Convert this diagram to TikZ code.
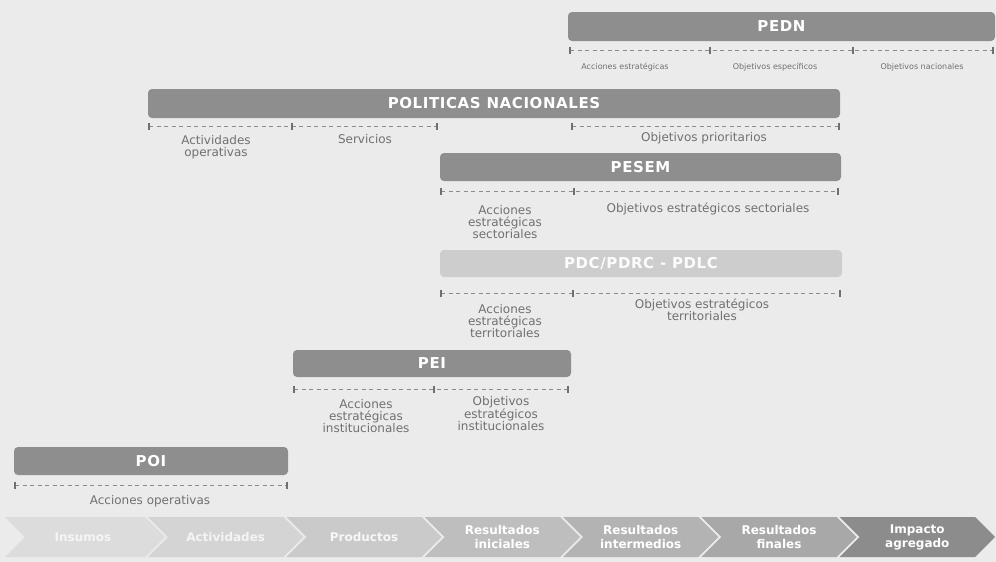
\documentclass[tikz,border=0pt]{standalone}
\usepackage{fontspec}
\setmainfont{DejaVu Sans}
\definecolor{bg}{HTML}{EBEBEB}
\definecolor{barc}{HTML}{8E8E8E}
\definecolor{barlight}{HTML}{CDCDCD}
\definecolor{lbl}{HTML}{707070}
\definecolor{dsh}{HTML}{8C8C8C}
\definecolor{chA}{HTML}{DCDCDC}
\definecolor{chB}{HTML}{D4D4D4}
\definecolor{chC}{HTML}{CACACA}
\definecolor{chD}{HTML}{BEBEBE}
\definecolor{chE}{HTML}{B3B3B3}
\definecolor{chF}{HTML}{A8A8A8}
\definecolor{chG}{HTML}{8C8C8C}
\begin{document}
\begin{tikzpicture}[x=1pt,y=-1pt,
  bar/.style={fill=barc, rounded corners=4pt, inner sep=0pt, text=white,
    font=\bfseries\fontsize{15}{15}\selectfont\addfontfeature{LetterSpace=4}},
  dashline/.style={draw=dsh, line width=0.8pt, dash pattern=on 4pt off 3.5pt},
  tickmark/.style={draw=lbl, line width=1.8pt},
  lab/.style={text=lbl, font=\fontsize{12}{12}\selectfont, align=center, inner sep=0pt, anchor=north},
  smalllab/.style={text=lbl, font=\fontsize{8}{9}\selectfont, align=center, inner sep=0pt, anchor=north},
  chevtext/.style={text=white, font=\bfseries\fontsize{12}{14}\selectfont, align=center, inner sep=0pt}]
\fill[bg] (0,0) rectangle (996,562);
\useasboundingbox (0,0) rectangle (996,562);

% ---------- PEDN ----------
\node[bar, minimum width=427pt, minimum height=29pt] (pedn) at (781.5,26.5) {PEDN};
\coordinate (pa) at (570,50); \coordinate (pb) at (710,50);
\coordinate (pc) at (853,50); \coordinate (pd) at (993,50);
\draw[dashline] (pa) -- (pd);
\foreach \c in {pa,pb,pc,pd} \draw[tickmark] ([yshift=3.5pt]\c) -- ([yshift=-3.5pt]\c);
\node[smalllab] (pedn1) at (625,63) {Acciones estratégicas};
\node[smalllab] (pedn2) at (775,63) {Objetivos específicos};
\node[smalllab] (pedn3) at (922,63) {Objetivos nacionales};

% ---------- POLITICAS NACIONALES ----------
\node[bar, minimum width=692pt, minimum height=29pt] (pn) at (494,103.5) {POLITICAS NACIONALES};
\coordinate (na) at (149,126); \coordinate (nb) at (292,126);
\coordinate (nc) at (437,126); \coordinate (nd) at (572,126);
\coordinate (ne) at (839,126);
\draw[dashline] (na) -- (nc);
\draw[dashline] (nd) -- (ne);
\foreach \c in {na,nb,nc,nd,ne} \draw[tickmark] ([yshift=3.5pt]\c) -- ([yshift=-3.5pt]\c);
\node[lab] (pn1) at (216,135) {Actividades\\operativas};
\node[lab] (pn2) at (365,134) {Servicios};
\node[lab] (pn3) at (704,132) {Objetivos prioritarios};

% ---------- PESEM ----------
\node[bar, minimum width=401pt, minimum height=28pt] (pesem) at (640.5,167) {PESEM};
\coordinate (sa) at (441,191); \coordinate (sb) at (574,191);
\coordinate (sc) at (838,191);
\draw[dashline] (sa) -- (sc);
\foreach \c in {sa,sb,sc} \draw[tickmark] ([yshift=3.5pt]\c) -- ([yshift=-3.5pt]\c);
\node[lab] (pesem1) at (505,205) {Acciones\\estratégicas\\sectoriales};
\node[lab] (pesem2) at (708,203) {Objetivos estratégicos sectoriales};

% ---------- PDC ----------
\node[bar, fill=barlight, text=white!94!barlight, minimum width=402pt, minimum height=27pt] (pdc) at (641,263.5) {PDC/PDRC - PDLC};
\coordinate (da) at (441,293); \coordinate (db) at (573,293);
\coordinate (dc) at (840,293);
\draw[dashline] (da) -- (dc);
\foreach \c in {da,db,dc} \draw[tickmark] ([yshift=3.5pt]\c) -- ([yshift=-3.5pt]\c);
\node[lab] (pdc1) at (505,304) {Acciones\\estratégicas\\territoriales};
\node[lab] (pdc2) at (702,299) {Objetivos estratégicos\\territoriales};

% ---------- PEI ----------
\node[bar, minimum width=278pt, minimum height=27pt] (pei) at (432,363.5) {PEI};
\coordinate (ea) at (294,389); \coordinate (eb) at (434,389);
\coordinate (ec) at (568,389);
\draw[dashline] (ea) -- (ec);
\foreach \c in {ea,eb,ec} \draw[tickmark] ([yshift=3.5pt]\c) -- ([yshift=-3.5pt]\c);
\node[lab] (pei1) at (366,399) {Acciones\\estratégicas\\institucionales};
\node[lab] (pei2) at (501,396) {Objetivos\\estratégicos\\institucionales};

% ---------- POI ----------
\node[bar, minimum width=274pt, minimum height=28pt] (poi) at (151,461) {POI};
\coordinate (oa) at (15,485); \coordinate (ob) at (287,485);
\draw[dashline] (oa) -- (ob);
\foreach \c in {oa,ob} \draw[tickmark] ([yshift=3.5pt]\c) -- ([yshift=-3.5pt]\c);
\node[lab] (poi1) at (150,495) {Acciones operativas};

% ---------- Chevrons ----------
\fill[chA] (5,517) -- (145,517) -- (165,537) -- (145,557) -- (5,557) -- (25,537) -- cycle;
\fill[chB] (148,517) -- (283.3,517) -- (303.3,537) -- (283.3,557) -- (148,557) -- (168,537) -- cycle;
\fill[chC] (286.3,517) -- (421.7,517) -- (441.7,537) -- (421.7,557) -- (286.3,557) -- (306.3,537) -- cycle;
\fill[chD] (424.7,517) -- (560,517) -- (580,537) -- (560,557) -- (424.7,557) -- (444.7,537) -- cycle;
\fill[chE] (563,517) -- (698.3,517) -- (718.3,537) -- (698.3,557) -- (563,557) -- (583,537) -- cycle;
\fill[chF] (701.3,517) -- (836.7,517) -- (856.7,537) -- (836.7,557) -- (701.3,557) -- (721.3,537) -- cycle;
\fill[chG] (839.7,517) -- (975,517) -- (995,537) -- (975,557) -- (839.7,557) -- (859.7,537) -- cycle;
\node[chevtext, text=white!70!chA] (c1) at (83,537) {Insumos};
\node[chevtext, text=white!75!chB] (c2) at (225.7,537) {Actividades};
\node[chevtext, text=white!85!chC] (c3) at (364,537) {Productos};
\node[chevtext] (c4) at (502.3,537) {Resultados\\iniciales};
\node[chevtext] (c5) at (640.7,537) {Resultados\\intermedios};
\node[chevtext] (c6) at (779,537) {Resultados\\finales};
\node[chevtext] (c7) at (917.3,537) {Impacto\\agregado};
\end{tikzpicture}
\end{document}
